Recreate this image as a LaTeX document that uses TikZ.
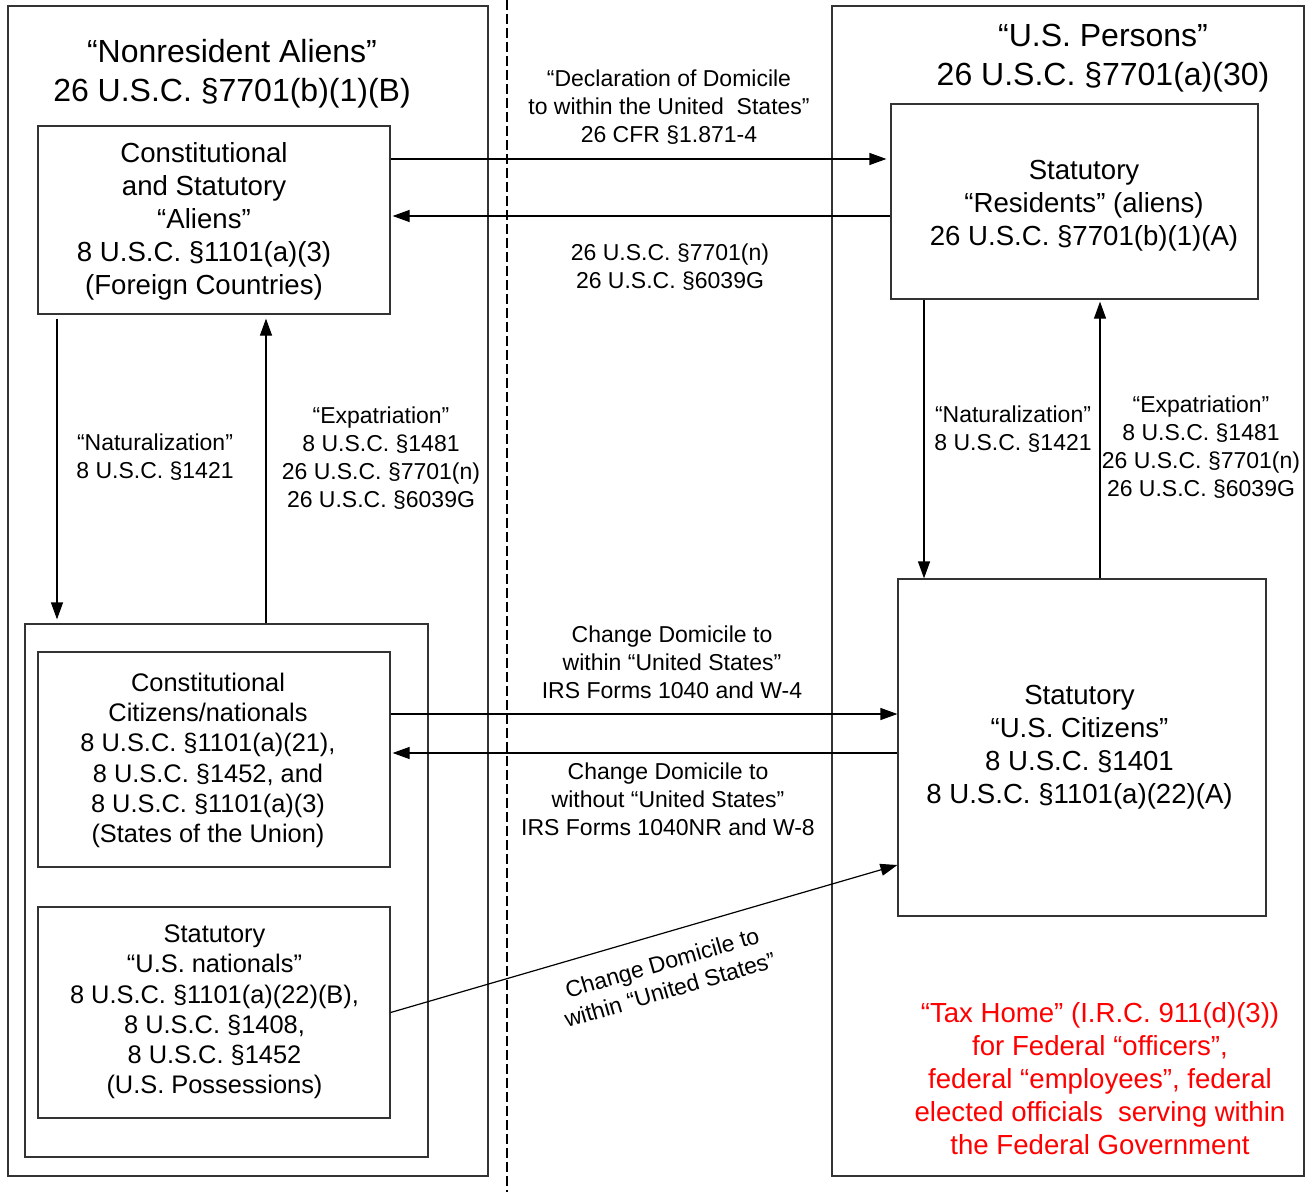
\documentclass[tikz,border=0pt]{standalone}
\usepackage{fontspec}
\setmainfont{Liberation Sans}
\usetikzlibrary{arrows.meta}
\newcommand\ttlfnt{\fontsize{16}{19.5}\selectfont}
\newcommand\bxfnt{\fontsize{13.8}{16.5}\selectfont}
\newcommand\bxsfnt{\fontsize{12.7}{15.1}\selectfont}
\newcommand\lblfnt{\fontsize{11.5}{14}\selectfont}
\begin{document}
\begin{tikzpicture}[x=0.5pt,y=-0.5pt,
  frame/.style={draw=black!80, line width=0.6pt, inner sep=0pt},
  bxtxt/.style={align=center, font=\bxfnt, inner sep=0pt},
  bxstxt/.style={align=center, font=\bxsfnt, inner sep=0pt},
  arr/.style={draw=black, line width=0.6pt, -{Triangle[length=8.5pt,width=6pt]}},
  lbl/.style={align=center, font=\lblfnt, inner sep=0pt},
  ttl/.style={align=center, font=\ttlfnt, inner sep=0pt},
  sep/.style={draw=black, line width=0.6pt, dash pattern=on 5pt off 2pt}]
\path[use as bounding box] (0,0) rectangle (1309,1192);

% outer frames
\node[frame, minimum width=240pt, minimum height=585pt] (outerL) at (248,591) {};
\node[frame, minimum width=236pt, minimum height=585pt] (outerR) at (1068,591) {};

% separator
\coordinate (sepTop) at (507,0);
\coordinate (sepBot) at (507,1192);
\draw[sep] (sepTop) -- (sepBot);

% titles
\node[ttl] (titleL) at (232,73.5) {“Nonresident Aliens”\\26 U.S.C. §7701(b)(1)(B)};
\node[ttl] (titleR) at (1103,58.5) {“U.S. Persons”\\26 U.S.C. §7701(a)(30)};

% boxes
\node[frame, minimum width=176pt, minimum height=94pt] (aliens) at (214,220) {};
\node[bxtxt] (aliensT) at (204,221)
  {Constitutional\\and Statutory\\“Aliens”\\8 U.S.C. §1101(a)(3)\\(Foreign Countries)};
\node[frame, minimum width=183.5pt, minimum height=97.5pt] (residents) at (1074.5,201.5) {};
\node[bxtxt] (residentsT) at (1084,205.5)
  {Statutory\\“Residents” (aliens)\\26 U.S.C. §7701(b)(1)(A)};
\node[frame, minimum width=201.5pt, minimum height=266.5pt] (group) at (226.5,890.5) {};
\node[frame, minimum width=176pt, minimum height=107.5pt] (citC) at (214,759.5) {};
\node[bxstxt] (citCT) at (208,760.5)
  {Constitutional\\Citizens/nationals\\8 U.S.C. §1101(a)(21),\\8 U.S.C. §1452, and\\8 U.S.C. §1101(a)(3)\\(States of the Union)};
\node[frame, minimum width=176pt, minimum height=105.5pt] (nationals) at (214,1012.5) {};
\node[bxstxt] (nationalsT) at (214.5,1012)
  {Statutory\\“U.S. nationals”\\8 U.S.C. §1101(a)(22)(B),\\8 U.S.C. §1408,\\8 U.S.C. §1452\\(U.S. Possessions)};
\node[frame, minimum width=184pt, minimum height=168.5pt] (uscit) at (1082,747.5) {};
\node[bxtxt] (uscitT) at (1079.5,747.5)
  {Statutory\\“U.S. Citizens”\\8 U.S.C. §1401\\8 U.S.C. §1101(a)(22)(A)};

% connectors
\draw[arr, shorten >=2pt] (aliens.east |- 0,159) -- (residents.west |- 0,159);
\draw[arr, shorten >=1pt] (residents.west |- 0,216) -- (aliens.east |- 0,216);
\draw[arr, shorten <=2pt, shorten >=2pt] (aliens.south -| 57,0) -- (group.north -| 57,0);
\draw[arr, shorten >=2pt] (group.north -| 266,0) -- (aliens.south -| 266,0);
\draw[arr] (residents.south -| 924,0) -- (uscit.north -| 924,0);
\draw[arr, shorten >=1pt] (uscit.north -| 1100,0) -- (residents.south -| 1100,0);
\draw[arr] (citC.east |- 0,714) -- (uscit.west |- 0,714);
\draw[arr, shorten >=1pt] (uscit.west |- 0,753) -- (citC.east |- 0,753);
\draw[arr] (nationals.east) -- (uscit.west |- 0,865);

% labels
\node[lbl] (l1) at (669,107) {“Declaration of Domicile\\to within the United\ \ States”\\26 CFR §1.871-4};
\node[lbl] (l2) at (670,267) {26 U.S.C. §7701(n)\\26 U.S.C. §6039G};
\node[lbl] (l3) at (155,457) {“Naturalization”\\8 U.S.C. §1421};
\node[lbl] (l4) at (381,458.5) {“Expatriation”\\8 U.S.C. §1481\\26 U.S.C. §7701(n)\\26 U.S.C. §6039G};
\node[lbl] (l5) at (1013,429) {“Naturalization”\\8 U.S.C. §1421};
\node[lbl] (l6) at (1201,447.5) {“Expatriation”\\8 U.S.C. §1481\\26 U.S.C. §7701(n)\\26 U.S.C. §6039G};
\node[lbl] (l7) at (672,662) {Change Domicile to\\within “United States”\\IRS Forms 1040 and W-4};
\node[lbl] (l8) at (668,799.5) {Change Domicile to\\without “United States”\\IRS Forms 1040NR and W-8};
\node[lbl, rotate=16.2] (l9) at (666,976) {Change Domicile to\\within “United States”};
\node[bxtxt, text=red] (taxhome) at (1100,1078.5)
  {“Tax Home” (I.R.C. 911(d)(3))\\for Federal “officers”,\\federal “employees”, federal\\elected officials\ \ serving within\\the Federal Government};
\end{tikzpicture}
\end{document}
